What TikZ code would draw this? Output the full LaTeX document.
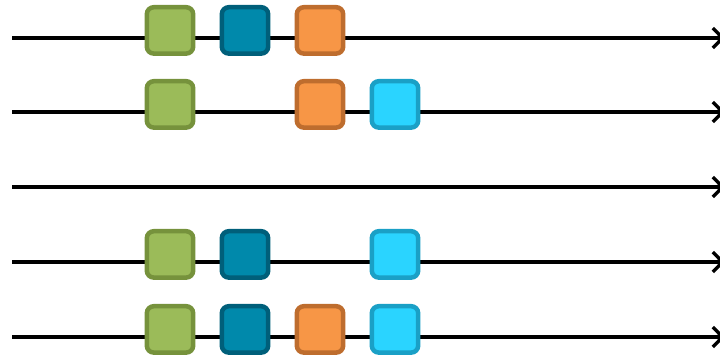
\documentclass[tikz,border=0pt]{standalone}
\usepackage{tikz}
\usetikzlibrary{positioning}
\usetikzlibrary{arrows.meta}

\definecolor{greenfill}{HTML}{9BBB59}
\definecolor{greenline}{HTML}{76923C}
\definecolor{tealfill}{HTML}{0089AB}
\definecolor{tealline}{HTML}{005F7A}
\definecolor{orangefill}{HTML}{F79646}
\definecolor{orangeline}{HTML}{BE6D2E}
\definecolor{cyanfill}{HTML}{2AD4FF}
\definecolor{cyanline}{HTML}{1AA0C6}

\tikzset{
    timeline/.style={line width=2.4pt, -{Straight Barb[length=0.24cm, width=0.5cm, line width=2.4pt]}},
    box/.style={rectangle, rounded corners=5pt, line width=3.2pt,
        minimum size=1.16cm, inner sep=0pt},
    greenbox/.style={box, draw=greenline, fill=greenfill},
    tealbox/.style={box, draw=tealline, fill=tealfill},
    orangebox/.style={box, draw=orangeline, fill=orangefill},
    cyanbox/.style={box, draw=cyanline, fill=cyanfill}
}

\begin{document}
\begin{tikzpicture}[node distance=1.875cm, on grid]
    \useasboundingbox (0,0) rectangle (18,-8.85);

    % time lines
    \coordinate (s1) at (0.3,-0.95);   \coordinate (e1) at (18.12,-0.95);
    \coordinate (s2) at (0.3,-2.8);    \coordinate (e2) at (18.12,-2.8);
    \coordinate (s3) at (0.3,-4.675);  \coordinate (e3) at (18.12,-4.675);
    \coordinate (s4) at (0.3,-6.55);   \coordinate (e4) at (18.12,-6.55);
    \coordinate (s5) at (0.3,-8.425);  \coordinate (e5) at (18.12,-8.425);

    \draw [timeline] (s1) -- (e1);
    \draw [timeline] (s2) -- (e2);
    \draw [timeline] (s3) -- (e3);
    \draw [timeline] (s4) -- (e4);
    \draw [timeline] (s5) -- (e5);

    % first row
    \node [greenbox] (g1) at (4.25,-0.76) {};
    \node [tealbox, right=of g1] (t1) {};
    \node [orangebox, right=of t1] (o1) {};

    % second row
    \node [greenbox] (g2) at (4.25,-2.61) {};
    \node [orangebox, right=3.75cm of g2] (o2) {};
    \node [cyanbox, right=of o2] (c2) {};

    % fourth row
    \node [greenbox] (g4) at (4.25,-6.36) {};
    \node [tealbox, right=of g4] (t4) {};
    \node [cyanbox, right=3.75cm of t4] (c4) {};

    % fifth row
    \node [greenbox] (g5) at (4.25,-8.235) {};
    \node [tealbox, right=of g5] (t5) {};
    \node [orangebox, right=of t5] (o5) {};
    \node [cyanbox, right=of o5] (c5) {};
\end{tikzpicture}
\end{document}
